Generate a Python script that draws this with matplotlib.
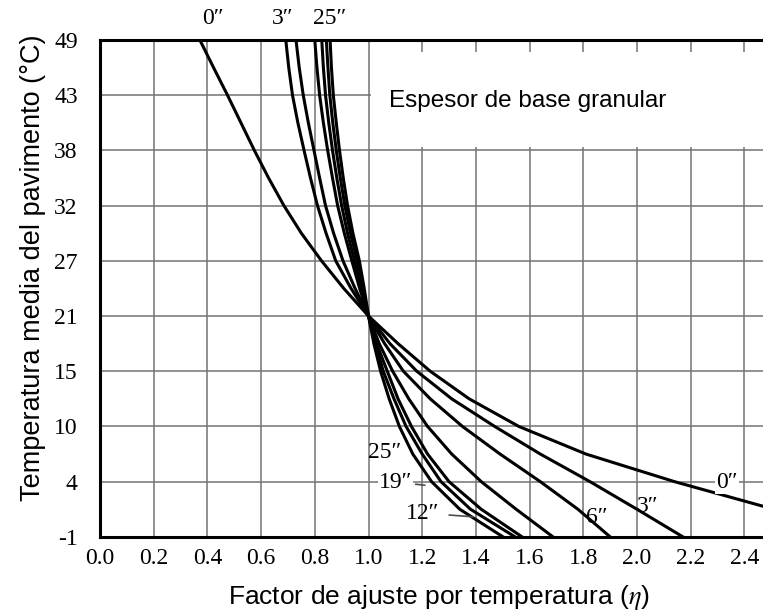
import numpy as np
import matplotlib.pyplot as plt
from matplotlib.patches import Rectangle

plt.rcParams['mathtext.fontset'] = 'stix'

# mean pavement temperature, read on the original (evenly spaced) F scale
temp_f = [120, 115, 110, 105, 100, 95, 90, 85, 80, 75, 70,
          65, 60, 55, 50, 45, 40, 35, 30]

# adjustment factor for each granular base thickness
eta_0in = [0.372, 0.423, 0.475, 0.525, 0.575, 0.628, 0.685, 0.750, 0.825, 0.908, 1.0,
           1.11, 1.23, 1.375, 1.56, 1.81, 2.14, 2.51, 2.90]
eta_3in = [0.692, 0.703, 0.717, 0.737, 0.760, 0.784, 0.810, 0.842, 0.878, 0.935, 1.0,
           1.08, 1.18, 1.31, 1.47, 1.64, 1.825, 2.0, 2.171]
eta_6in = [0.730, 0.742, 0.757, 0.776, 0.797, 0.818, 0.840, 0.870, 0.905, 0.950, 1.0,
           1.06, 1.13, 1.23, 1.35, 1.49, 1.64, 1.78, 1.90]
eta_9in = [0.800, 0.808, 0.818, 0.832, 0.848, 0.866, 0.885, 0.910, 0.938, 0.967, 1.0,
           1.04, 1.09, 1.15, 1.22, 1.31, 1.42, 1.55, 1.687]
eta_12in = [0.826, 0.832, 0.840, 0.852, 0.866, 0.882, 0.900, 0.922, 0.948, 0.973, 1.0,
            1.03, 1.07, 1.11, 1.16, 1.22, 1.30, 1.42, 1.572]
eta_19in = [0.843, 0.849, 0.856, 0.867, 0.880, 0.895, 0.912, 0.933, 0.958, 0.979, 1.0,
            1.026, 1.055, 1.095, 1.14, 1.20, 1.27, 1.38, 1.546]
eta_25in = [0.857, 0.862, 0.869, 0.880, 0.892, 0.906, 0.922, 0.942, 0.966, 0.984, 1.0,
            1.02, 1.045, 1.077, 1.115, 1.165, 1.235, 1.34, 1.501]

ytick_f = [30, 40, 50, 60, 70, 80, 90, 100, 110, 120]
ytick_labels = ['-1', '4', '10', '15', '21', '27', '32', '38', '43', '49']
xticks = [0.0, 0.2, 0.4, 0.6, 0.8, 1.0, 1.2, 1.4, 1.6, 1.8, 2.0, 2.2, 2.4]

# (text, eta, temp F, white box behind)
curve_labels = [('0\u2033', 0.42, 123.8, False), ('3\u2033', 0.68, 123.8, False),
                ('25\u2033', 0.857, 123.8, False),
                ('25\u2033', 1.061, 45.3, False), ('19\u2033', 1.10, 39.8, True),
                ('12\u2033', 1.20, 34.2, False), ('6\u2033', 1.851, 33.6, False),
                ('3\u2033', 2.04, 35.5, False), ('0\u2033', 2.335, 39.8, True)]

serif = ['Liberation Serif', 'DejaVu Serif']
sans = ['Liberation Sans', 'DejaVu Sans']


def plot_eta():
    fig = plt.figure(figsize=(7.63, 6.15), dpi=100)
    ax = fig.add_axes([0.131, 0.127, 0.869, 0.808])

    for eta in [eta_0in, eta_3in, eta_6in, eta_9in, eta_12in, eta_19in, eta_25in]:
        ax.plot(eta, temp_f, color='black', linewidth=2.2, solid_joinstyle='round',
                zorder=3)

    ax.set_xlim(0, 2.469)
    ax.set_ylim(30, 120)
    ax.set_xticks(xticks)
    ax.set_xticklabels(['%.1f' % x for x in xticks], family=serif, fontsize=17)
    ax.set_yticks(ytick_f)
    ax.set_yticklabels(ytick_labels, family=serif, fontsize=17)
    ax.tick_params(axis='x', length=0, pad=8)
    ax.tick_params(axis='y', length=0, pad=16)

    ax.set_axisbelow(True)
    ax.grid(True, color='0.45', linewidth=1.1)
    for side in ['left', 'bottom', 'top']:
        ax.spines[side].set_linewidth(2.2)
    ax.spines['right'].set_visible(False)

    # white patch behind the caption, as in the original figure
    ax.add_patch(Rectangle((1.01, 100.6), 1.5, 17.2, facecolor='white',
                           edgecolor='none', zorder=1))
    ax.text(1.075, 108.9, 'Espesor de base granular', family=sans, fontsize=17.5,
            va='center', ha='left', zorder=4)

    for txt, x, y, boxed in curve_labels:
        box = dict(facecolor='white', edgecolor='none', pad=0.5) if boxed else None
        ax.text(x, y, txt, family=serif, fontsize=17, ha='center', va='center',
                clip_on=False, zorder=4, bbox=box)
    # short leader lines next to the 19" and 12" labels
    ax.annotate('', xy=(1.22, 39.3), xytext=(1.165, 39.6),
                arrowprops=dict(arrowstyle='-', color='0.3', lw=1.2))
    ax.annotate('', xy=(1.40, 33.6), xytext=(1.29, 34.0),
                arrowprops=dict(arrowstyle='-', color='0.3', lw=1.2))

    ax.set_xlabel('Factor de ajuste por temperatura ($\\eta$)', family=sans,
                  fontsize=19)
    ax.xaxis.set_label_coords(0.512, -0.092)
    ax.set_ylabel('Temperatura media del pavimento (\u00b0C)', family=sans,
                  fontsize=19.5)
    ax.yaxis.set_label_coords(-0.082, 0.541)

    fig.savefig('out.png', dpi=100)


if __name__ == '__main__':
    plot_eta()
